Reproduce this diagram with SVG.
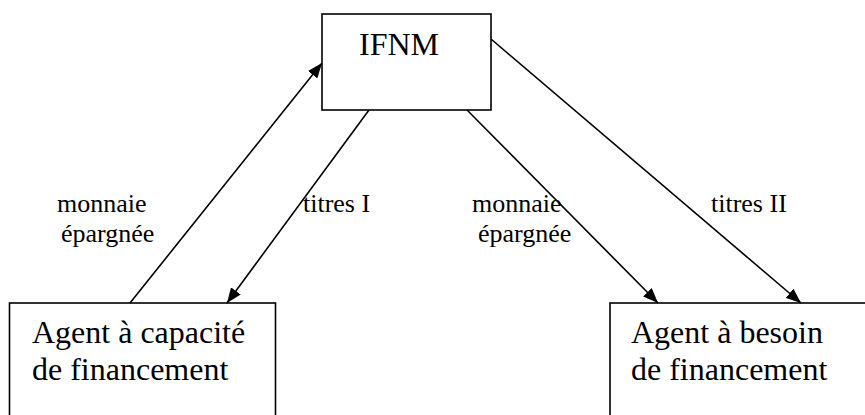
<svg xmlns="http://www.w3.org/2000/svg" width="865" height="415" viewBox="0 0 865 415">
<defs>
<marker id="ah" markerUnits="userSpaceOnUse" markerWidth="16" markerHeight="12" refX="15" refY="6" orient="auto">
<path d="M0,0 L15,6 L0,12 z" fill="#000"/>
</marker>
<style>
.box{fill:#fff;stroke:#000;stroke-width:1.6}
.big{font-family:"Liberation Serif","Times New Roman",serif;font-size:32px;fill:#000}
.lbl{font-family:"Liberation Serif","Times New Roman",serif;font-size:26px;fill:#000}
.edge{stroke:#000;stroke-width:1.6;fill:none;marker-end:url(#ah)}
</style>
</defs>
<rect width="865" height="415" fill="#fff"/>
<g id="ifnm">
<rect class="box" x="322" y="14" width="169" height="96"/>
<text class="big" x="359" y="55">IFNM</text>
</g>
<g id="agent-capacite">
<rect class="box" x="9.5" y="303" width="266" height="130"/>
<text class="big" x="32" y="343">Agent à capacité</text>
<text class="big" x="32" y="380">de financement</text>
</g>
<g id="agent-besoin">
<rect class="box" x="610" y="303" width="280" height="130"/>
<text class="big" x="631" y="343">Agent à besoin</text>
<text class="big" x="631" y="380">de financement</text>
</g>
<g id="connectors">
<line class="edge" x1="130" y1="303" x2="322" y2="63"/>
<line class="edge" x1="369" y1="110" x2="227" y2="303"/>
<line class="edge" x1="467" y1="110" x2="658" y2="303"/>
<line class="edge" x1="491" y1="39" x2="801" y2="303"/>
</g>
<g id="labels">
<text class="lbl" x="57" y="212">monnaie</text>
<text class="lbl" x="61" y="242">épargnée</text>
<text class="lbl" x="303" y="212">titres I</text>
<text class="lbl" x="472" y="212">monnaie</text>
<text class="lbl" x="478" y="242">épargnée</text>
<text class="lbl" x="711" y="212">titres II</text>
</g>
</svg>
